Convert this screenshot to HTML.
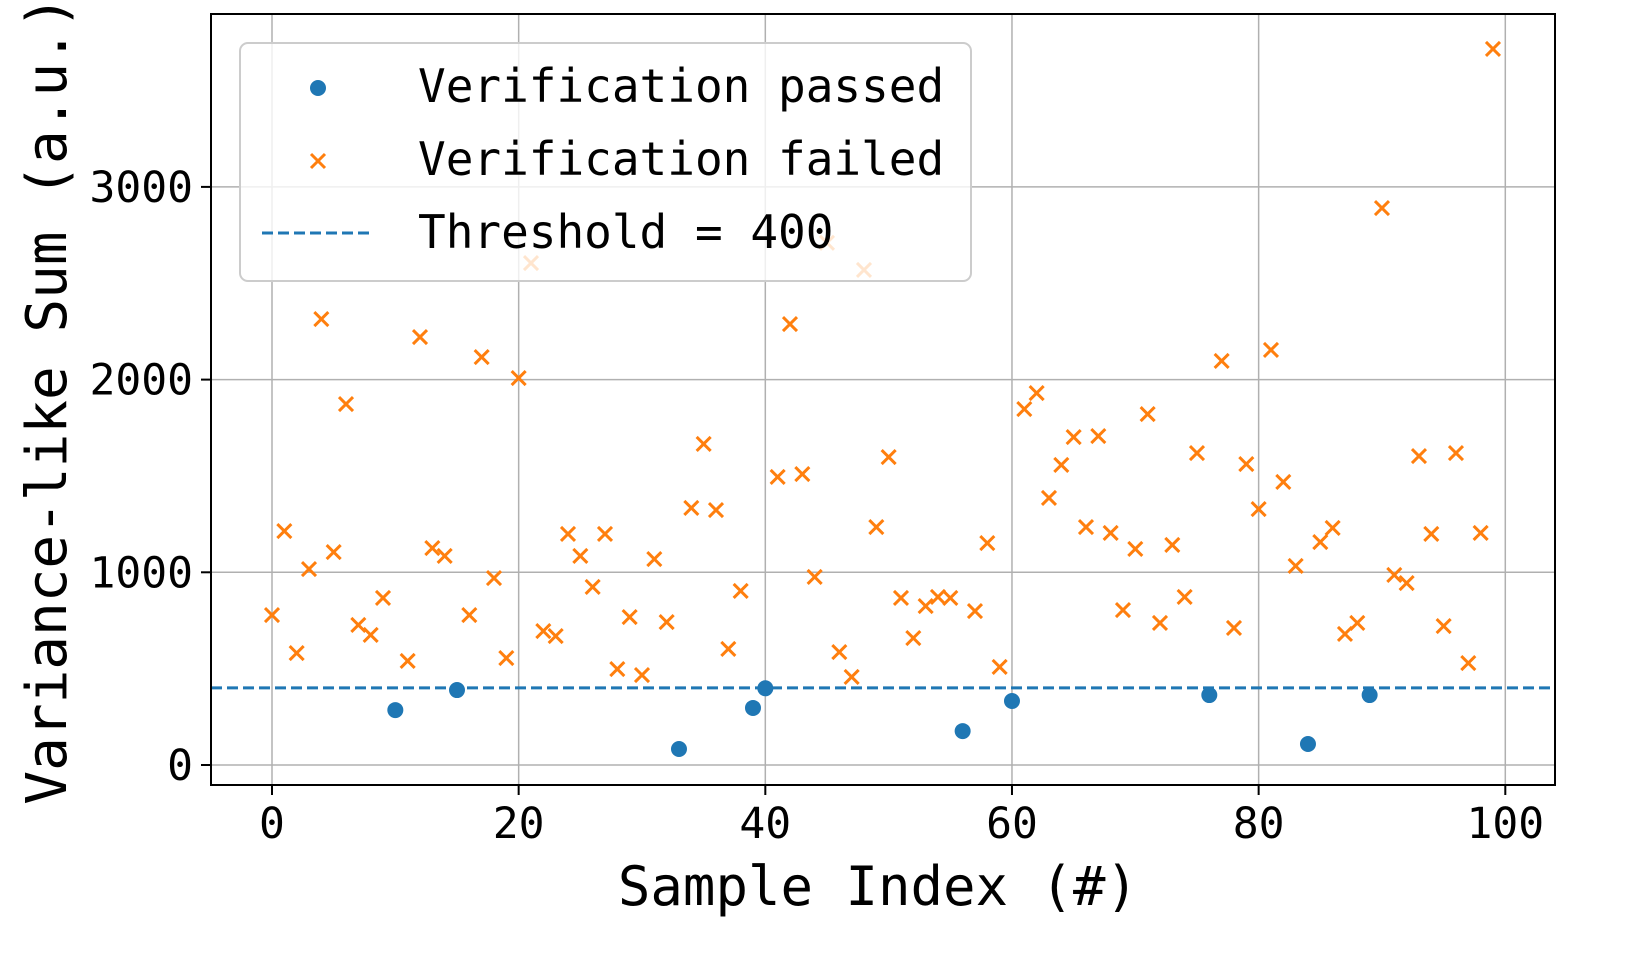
<!DOCTYPE html>
<html><head><meta charset="utf-8"><style>
body{margin:0;background:#fff}
svg text{font-family:"DejaVu Sans Mono","Liberation Mono","WenQuanYi Zen Hei",monospace;fill:#000}
</style></head><body>
<svg id="chart" width="1642" height="975" xmlns="http://www.w3.org/2000/svg">
<g id="grid"></g>
<g id="ticks"></g>
<line id="thr" stroke="#1f77b4" stroke-width="3" stroke-dasharray="11,5"/>
<g id="marks"></g>
<rect x="211" y="14" width="1344" height="771" fill="none" stroke="#000" stroke-width="2"/>
<text x="878" y="905" font-size="54" text-anchor="middle">Sample Index (#)</text>
<text transform="translate(66,400) rotate(-90)" font-size="56" text-anchor="middle">Variance-like Sum (a.u.)</text>
<g>
<rect x="240" y="43" width="731" height="238" rx="8" fill="#fff" fill-opacity="0.8" stroke="#ccc" stroke-width="2"/>
<circle cx="318" cy="88" r="8" fill="#1f77b4"/>
<text x="418" y="102" font-size="46">Verification passed</text>
<path d="M311,154l14,14M325,154l-14,14" stroke="#ff7f0e" stroke-width="3"/>
<text x="418" y="175" font-size="46">Verification failed</text>
<line x1="262" y1="233" x2="373" y2="233" stroke="#1f77b4" stroke-width="3" stroke-dasharray="11,5"/>
<text x="418" y="248" font-size="46">Threshold = 400</text>
</g>
</svg>
<script>
const values=[778,1214,581,1017,2314,1105,1873,727,675,867,285,540,2221,1126,1085,389,778,2117,970,555,2008,2605,695,669,1199,1085,924,1199,498,768,467,1069,742,83,1334,1666,1323,602,903,296,398,1495,2288,1510,976,2710,586,457,2569,1235,1598,867,659,825,872,867,176,799,1152,509,332,1847,1930,1386,1557,1702,1235,1707,1204,804,1121,1821,737,1142,872,1619,363,2097,711,1562,1328,2154,1469,1033,109,1157,1230,680,737,363,2890,986,944,1603,1199,721,1619,529,1204,3716];
const threshold=400;
const xTicks=[0,20,40,60,80,100];
const yTicks=[0,1000,2000,3000];
const NS="http://www.w3.org/2000/svg";
const xs=v=>272+v*12.333;
const ys=v=>765-v*0.1927;
function mk(t,a,p){const e=document.createElementNS(NS,t);for(const k in a)e.setAttribute(k,a[k]);p.appendChild(e);return e;}
const grid=document.getElementById('grid'),ticks=document.getElementById('ticks'),marks=document.getElementById('marks');
xTicks.forEach(t=>{const x=xs(t);
const g=mk('line',{x1:x,x2:x,y1:14,y2:785,stroke:'#b0b0b0','stroke-width':1.5},grid);


mk('line',{x1:x,x2:x,y1:785,y2:795,stroke:'#000','stroke-width':2},ticks);
const l=mk('text',{x:x,y:838,'font-size':43,'text-anchor':'middle'},ticks);l.textContent=t;

});
yTicks.forEach(t=>{const y=ys(t);
const g=mk('line',{x1:211,x2:1555,y1:y,y2:y,stroke:'#b0b0b0','stroke-width':1.5},grid);


mk('line',{x1:201,x2:211,y1:y,y2:y,stroke:'#000','stroke-width':2},ticks);
const l=mk('text',{x:193,y:y+15,'font-size':43,'text-anchor':'end'},ticks);l.textContent=t;

});
const th=document.getElementById('thr');
th.setAttribute('x1',211);th.setAttribute('x2',1555);th.setAttribute('y1',ys(threshold));th.setAttribute('y2',ys(threshold));
values.forEach((v,i)=>{const x=xs(i),y=ys(v);let e;
if(v<threshold){e=mk('circle',{cx:x,cy:y,r:8,fill:'#1f77b4'},marks);
}
else{e=mk('path',{d:`M${x-7},${y-7}l14,14M${x+7},${y-7}l-14,14`,stroke:'#ff7f0e','stroke-width':3},marks);
}
});
</script>
</body></html>
